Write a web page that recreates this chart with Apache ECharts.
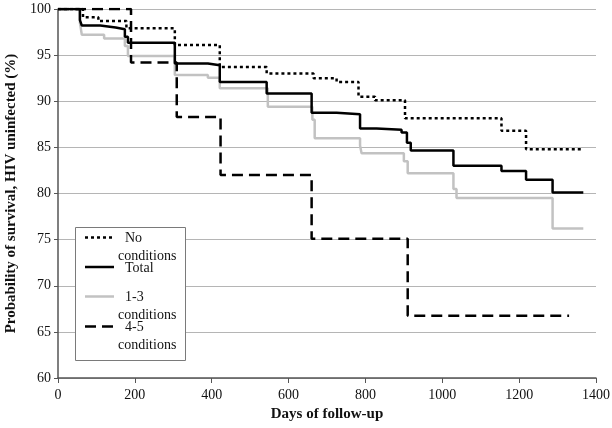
<!DOCTYPE html>
<html>
<head>
<meta charset="utf-8">
<script src="https://cdn.jsdelivr.net/npm/echarts@6/dist/echarts.min.js"></script>
<style>html,body{margin:0;padding:0;background:#fff}#c{width:612px;height:428px}</style>
</head>
<body>
<div id="c"></div>
<script>
var xTicks = [0, 200, 400, 600, 800, 1000, 1200, 1400];
var yTicks = [60, 65, 70, 75, 80, 85, 90, 95, 100];
var seriesNames = ['No conditions', 'Total', '1-3 conditions', '4-5 conditions'];
var legendLabels = [['No', 'conditions'], ['Total'], ['1-3', 'conditions'], ['4-5', 'conditions']];

var noDays = [0, 65, 105, 178, 304, 421, 543, 665, 725, 782, 825, 903, 1154, 1218, 1363];
var noVals = [100, 99.1, 98.7, 97.9, 96.1, 93.7, 93.0, 92.5, 92.1, 90.5, 90.1, 88.15, 86.8, 84.8, 84.8];

var totDays = [0, 57, 62, 110, 150, 174, 182, 304, 390, 421, 543, 660, 725, 786, 829, 894, 908, 918, 1029, 1154, 1218, 1287, 1367];
var totVals = [100, 98.8, 98.2, 98.0, 97.8, 97.0, 96.35, 94.1, 93.9, 92.1, 90.85, 88.75, 88.6, 87.05, 86.9, 86.6, 85.5, 84.65, 83.0, 82.45, 81.5, 80.1, 80.1];

var midDays = [0, 57, 62, 120, 174, 182, 304, 390, 421, 546, 662, 668, 786, 790, 900, 910, 1029, 1037, 1287, 1367];
var midVals = [100, 98.5, 97.2, 96.8, 96.0, 94.9, 92.85, 92.55, 91.4, 89.4, 88.0, 86.0, 85.2, 84.35, 83.5, 82.2, 80.5, 79.5, 76.2, 76.2];

var hiDays = [0, 190, 309, 423, 660, 910, 1330];
var hiVals = [100, 94.2, 88.3, 82.0, 75.1, 66.75, 66.75];

function zip(a, b) { return a.map(function (d, i) { return [d, b[i]]; }); }

var FONT = '"Liberation Serif", "Times New Roman", serif';
var chart = echarts.init(document.getElementById('c'), null, { renderer: 'canvas' });

var lineStyles = [
  { color: '#000', width: 2.5, type: [3, 3] },
  { color: '#000', width: 2.5, type: 'solid' },
  { color: '#c2c2c2', width: 2.5, type: 'solid' },
  { color: '#000', width: 2.5, type: [11, 6] }
];
var datas = [zip(noDays, noVals), zip(totDays, totVals), zip(midDays, midVals), zip(hiDays, hiVals)];

var series = seriesNames.map(function (n, i) {
  return {
    name: n, type: 'line', step: 'end', data: datas[i], showSymbol: false, symbol: 'none',
    animation: false, z: 3 + (i === 2 ? 0 : 1),
    lineStyle: lineStyles[i]
  };
});

var lg = [];
lg.push({ type: 'rect', shape: { x: 75.5, y: 227.5, width: 110, height: 133 }, style: { fill: '#fff', stroke: '#7a7a7a', lineWidth: 1 }, z: 100 });
var rowY = [237.5, 267, 296.5, 326.5];
legendLabels.forEach(function (lab, i) {
  var ls = lineStyles[i];
  lg.push({ type: 'line', shape: { x1: 85, y1: rowY[i], x2: 114, y2: rowY[i] },
    style: { stroke: ls.color, lineWidth: ls.width, lineDash: Array.isArray(ls.type) ? ls.type : null }, z: 101 });
  lg.push({ type: 'text', x: 125, y: rowY[i] + 1, z: 101,
    style: { text: lab[0], font: '14px ' + FONT, fill: '#111', verticalAlign: 'middle', align: 'left' } });
  if (lab[1]) {
    lg.push({ type: 'text', x: 118, y: rowY[i] + 19, z: 101,
      style: { text: lab[1], font: '14px ' + FONT, fill: '#111', verticalAlign: 'middle', align: 'left' } });
  }
});

chart.setOption({
  backgroundColor: '#fff',
  animation: false,
  grid: { left: 58, right: 16, top: 9, bottom: 50, containLabel: false, outerBoundsMode: 'none' },
  xAxis: {
    type: 'value', min: xTicks[0], max: xTicks[xTicks.length - 1], interval: 200,
    name: 'Days of follow-up', nameLocation: 'middle', nameGap: 27,
    nameTextStyle: { fontFamily: FONT, fontWeight: 'bold', fontSize: 15, color: '#111' },
    axisLine: { lineStyle: { color: '#555', width: 1.5 } },
    axisTick: { show: true, length: 5, lineStyle: { color: '#555' } },
    axisLabel: { fontFamily: FONT, fontSize: 14, color: '#111', margin: 10, formatter: function (v) { return String(v); } },
    splitLine: { show: false }
  },
  yAxis: {
    type: 'value', min: yTicks[0], max: yTicks[yTicks.length - 1], interval: 5,
    name: 'Probability of survival, HIV uninfected (%)', nameLocation: 'middle', nameGap: 38,
    nameTextStyle: { fontFamily: FONT, fontWeight: 'bold', fontSize: 15, color: '#111' },
    axisLine: { show: true, lineStyle: { color: '#555', width: 1.5 } },
    axisTick: { show: true, length: 4, lineStyle: { color: '#555' } },
    axisLabel: { fontFamily: FONT, fontSize: 14, color: '#111', margin: 7, formatter: function (v) { return String(v); } },
    splitLine: { show: true, lineStyle: { color: '#b5b5b5', width: 1 } }
  },
  series: series,
  graphic: lg
});
</script>
</body>
</html>
